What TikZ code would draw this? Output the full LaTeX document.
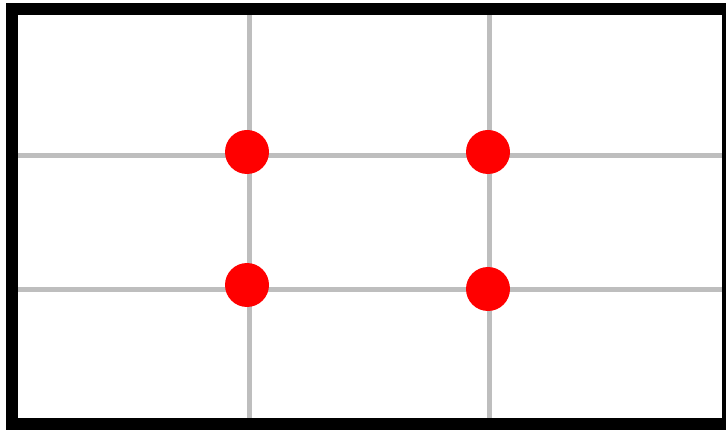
\documentclass[tikz,border=0pt]{standalone}
\usetikzlibrary{positioning}
\definecolor{gridgray}{HTML}{BEBEBE}
\definecolor{dotred}{HTML}{FF0000}

\begin{document}
\begin{tikzpicture}[x=1pt, y=-1pt,
    gridline/.style={gridgray, line width=5pt},
    reddot/.style={circle, fill=dotred, minimum size=44pt, inner sep=0pt}]
  \useasboundingbox (0,0) rectangle (726,430);

  % thirds grid
  \draw[gridline] (249.5,9) -- (249.5,423);
  \draw[gridline] (489,9) -- (489,423);
  \draw[gridline] (12,155.5) -- (726,155.5);
  \draw[gridline] (12,290) -- (726,290);

  % frame
  \draw[line width=12pt] (12,9) rectangle (728,423.5);

  % power points
  \node[reddot] (tl) at (247,152) {};
  \node[reddot] (tr) at (488,152) {};
  \node[reddot] (bl) at (247,285) {};
  \node[reddot] (br) at (488,289) {};
\end{tikzpicture}
\end{document}
